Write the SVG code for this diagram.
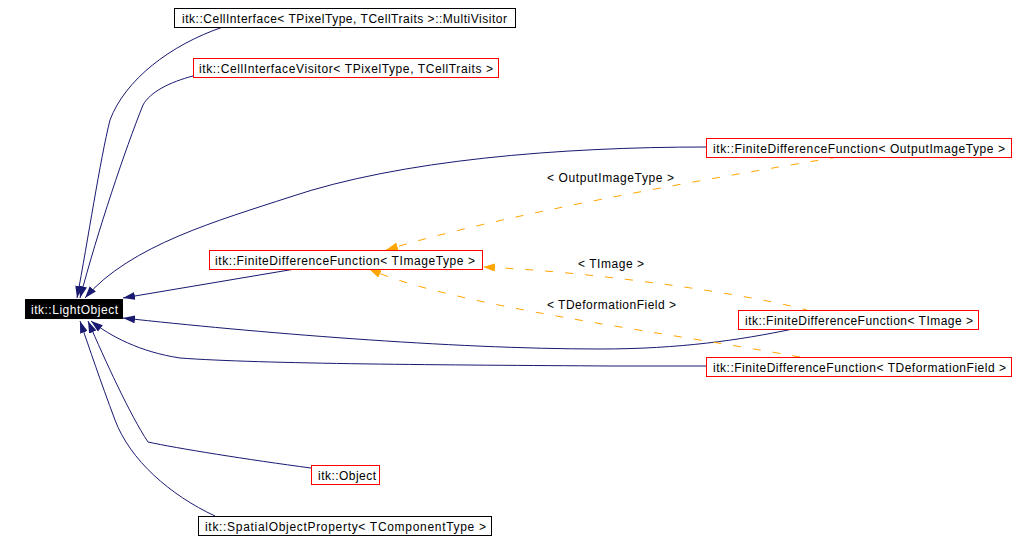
<svg xmlns="http://www.w3.org/2000/svg" width="1036" height="541" viewBox="0 0 1036 541">
<defs>
<marker id="an" markerUnits="userSpaceOnUse" viewBox="0 0 12 8" refX="12" refY="4" markerWidth="12" markerHeight="8" orient="auto"><path d="M0,0 L12,4 L0,8 z" fill="#191970"/></marker>
<marker id="ao" markerUnits="userSpaceOnUse" viewBox="0 0 12 8" refX="12" refY="4" markerWidth="12" markerHeight="8" orient="auto"><path d="M0,0 L12,4 L0,8 z" fill="#ffa500"/></marker>
</defs>
<style>
text{font-family:"Liberation Sans",Arial,sans-serif;font-size:12px;fill:#000}
.nb{fill:#fff;stroke:#000;stroke-width:1}
.nr{fill:#fff;stroke:#ff0000;stroke-width:1}
.e{fill:none;stroke:#191970;stroke-width:1;marker-end:url(#an)}
.t{fill:none;stroke:#ffa500;stroke-width:1;stroke-dasharray:8,12;marker-end:url(#ao)}
</style>
<rect width="1036" height="541" fill="#fff"/>
<g id="connectors">
<path class="e" d="M223,27 C170,45 125,80 110,120 C100,160 88,240 77,298"/>
<path class="e" d="M193,76 C170,82 150,92 143,105 C125,150 98,230 80,298"/>
<path class="e" d="M706,147 C560,147 400,160 290,197 C220,220 130,245 85,298"/>
<path class="e" d="M295,269 L123,298"/>
<path class="e" d="M793,329 C740,340 680,349 600,349 C450,349 250,332 123,318"/>
<path class="e" d="M706,366 L610,366 C450,365 260,364 180,358 C140,352 110,336 91,321"/>
<path class="e" d="M311,468 C250,460 175,448 148,442 C130,415 105,360 88,321"/>
<path class="e" d="M215,516 C170,495 130,460 115,420 C100,380 90,350 80,321"/>
<path class="t" d="M838,157 C700,180 500,215 386,250"/>
<path class="t" d="M810,311 C760,296 600,272 483,267"/>
<path class="t" d="M800,357 C650,330 450,305 369,269"/>
<text x="547" y="182" textLength="127" lengthAdjust="spacing">&lt; OutputImageType &gt;</text>
<text x="578" y="268" textLength="66" lengthAdjust="spacing">&lt; TImage &gt;</text>
<text x="547" y="309" textLength="129" lengthAdjust="spacing">&lt; TDeformationField &gt;</text>
</g>
<g id="LightObject">
<rect x="25" y="299" width="98" height="20" fill="#000"/>
<text x="31" y="313.5" textLength="87" lengthAdjust="spacing" style="fill:#fff">itk::LightObject</text>
</g>
<g id="MultiVisitor">
<rect class="nb" x="174.5" y="8.5" width="341" height="19"/>
<text x="182" y="22.5" textLength="325" lengthAdjust="spacing">itk::CellInterface&lt; TPixelType, TCellTraits &gt;::MultiVisitor</text>
</g>
<g id="CellInterfaceVisitor">
<rect class="nr" x="193.5" y="58.5" width="305" height="19"/>
<text x="199" y="72.5" textLength="294" lengthAdjust="spacing">itk::CellInterfaceVisitor&lt; TPixelType, TCellTraits &gt;</text>
</g>
<g id="FDF_OutputImageType">
<rect class="nr" x="706.5" y="138.5" width="305" height="19"/>
<text x="713" y="152.5" textLength="292" lengthAdjust="spacing">itk::FiniteDifferenceFunction&lt; OutputImageType &gt;</text>
</g>
<g id="FDF_TImageType">
<rect class="nr" x="209.5" y="250.5" width="273" height="19"/>
<text x="215" y="264.5" textLength="260" lengthAdjust="spacing">itk::FiniteDifferenceFunction&lt; TImageType &gt;</text>
</g>
<g id="FDF_TImage">
<rect class="nr" x="738.5" y="310.5" width="240" height="19"/>
<text x="745" y="324.5" textLength="228" lengthAdjust="spacing">itk::FiniteDifferenceFunction&lt; TImage &gt;</text>
</g>
<g id="FDF_TDeformationField">
<rect class="nr" x="706.5" y="357.5" width="305" height="19"/>
<text x="713" y="371.5" textLength="293" lengthAdjust="spacing">itk::FiniteDifferenceFunction&lt; TDeformationField &gt;</text>
</g>
<g id="Object">
<rect class="nr" x="311.5" y="465.5" width="68" height="19"/>
<text x="318" y="479.5" textLength="58" lengthAdjust="spacing">itk::Object</text>
</g>
<g id="SpatialObjectProperty">
<rect class="nb" x="198.5" y="516.5" width="293" height="19"/>
<text x="205" y="530.5" textLength="281" lengthAdjust="spacing">itk::SpatialObjectProperty&lt; TComponentType &gt;</text>
</g>
</svg>
